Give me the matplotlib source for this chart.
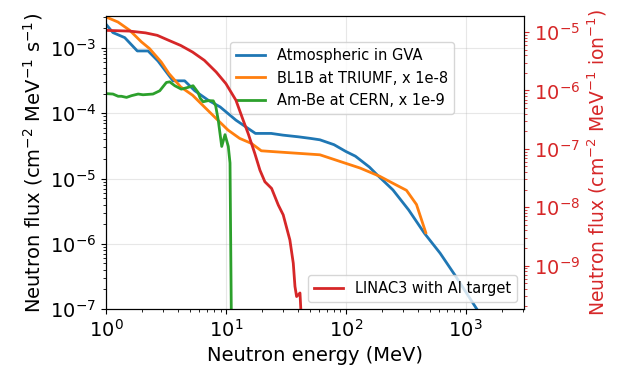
import numpy as np
import matplotlib.pyplot as plt

# Atmospheric neutrons in Geneva
atm_e = [1.0, 1.14, 1.43, 1.82, 2.24, 2.71, 3.61, 4.52, 5.49, 7.12, 8.93, 12.1, 17.6,
         23.8, 29.9, 40.4, 50.6, 60.7, 79.6, 99.8, 120, 157, 183, 247, 334, 452, 611,
         827, 1236, 1500]
atm_f = [2.3e-3, 1.72e-3, 1.44e-3, 9.0e-4, 9.0e-4, 6.3e-4, 3.14e-4, 3.14e-4, 2.21e-4,
         1.58e-4, 1.25e-4, 7.84e-5, 4.91e-5, 4.91e-5, 4.62e-5, 4.35e-5, 4.12e-5, 3.92e-5,
         3.3e-5, 2.6e-5, 2.2e-5, 1.5e-5, 1.13e-5, 6.68e-6, 3.3e-6, 1.45e-6, 7.18e-7,
         3.15e-7, 1.0e-7, 5.5e-8]

# BL1B at TRIUMF (scaled x 1e-8)
tri_e = [1.0, 1.254, 1.57, 1.97, 2.30, 2.88, 3.34, 4.19, 5.26, 6.60, 8.28, 10.4, 13.0,
         16.3, 19.7, 25.7, 40.4, 60.7, 89.1, 131, 192, 247, 320, 388, 464]
tri_f = [2.98e-3, 2.5e-3, 1.87e-3, 1.24e-3, 9.8e-4, 6.1e-4, 4.06e-4, 2.53e-4, 1.89e-4,
         1.25e-4, 8.3e-5, 5.52e-5, 4.12e-5, 3.45e-5, 2.66e-5, 2.57e-5, 2.43e-5, 2.31e-5,
         1.83e-5, 1.45e-5, 1.08e-5, 8.45e-6, 6.6e-6, 4.0e-6, 1.48e-6]

# Am-Be at CERN (scaled x 1e-9)
ambe_e = [1.0, 1.14, 1.26, 1.34, 1.48, 1.63, 1.85, 2.03, 2.46, 2.80, 3.18, 3.39, 3.74,
          4.24, 4.82, 5.31, 5.84, 6.1, 6.45, 7.08, 7.83, 8.2, 8.61, 9.21, 9.81, 10.45,
          10.8, 10.9, 11.1]
ambe_f = [2.0e-4, 1.97e-4, 1.82e-4, 1.82e-4, 1.75e-4, 1.86e-4, 1.97e-4, 1.92e-4, 1.97e-4,
          2.21e-4, 2.96e-4, 3.03e-4, 2.64e-4, 2.34e-4, 2.49e-4, 2.64e-4, 2.09e-4, 1.69e-4,
          1.5e-4, 1.56e-4, 1.55e-4, 1.3e-4, 7.9e-5, 3.1e-5, 4.7e-5, 3.1e-5, 1.73e-5,
          2.4e-6, 5e-8]

# LINAC3 with Al target (right axis)
lin_e = [1.0, 1.57, 2.13, 2.67, 3.34, 4.19, 5.26, 6.60, 8.28, 9.98, 12.1, 13.9, 15.3,
         17.4, 19.2, 21.1, 24.0, 27.3, 30.0, 34.1, 36.4, 37.6, 38.8, 41.4, 42.7]
lin_f = [1.07e-5, 1.04e-5, 9.7e-6, 8.8e-6, 7.2e-6, 5.9e-6, 4.55e-6, 3.28e-6, 2.07e-6,
         1.31e-6, 6.8e-7, 3.1e-7, 1.83e-7, 8.3e-8, 4.3e-8, 2.73e-8, 2.1e-8, 1.09e-8,
         7.4e-9, 2.75e-9, 1.1e-9, 4.4e-10, 2.95e-10, 3.4e-10, 1e-10]

plt.rcParams['font.size'] = 14

fig, ax = plt.subplots(figsize=(6.17, 3.83), dpi=100)
fig.subplots_adjust(left=0.172, right=0.849, top=0.958, bottom=0.193)

ax.plot(atm_e, atm_f, color='tab:blue', lw=2, label='Atmospheric in GVA')
ax.plot(tri_e, tri_f, color='tab:orange', lw=2, label='BL1B at TRIUMF, x 1e-8')
ax.plot(ambe_e, ambe_f, color='tab:green', lw=2, label='Am-Be at CERN, x 1e-9')
ax.set_xscale('log')
ax.set_yscale('log')
ax.set_xlim(1, 3.05e3)
ax.set_ylim(1e-7, 3.08e-3)
ax.set_xlabel('Neutron energy (MeV)')
ax.set_ylabel('Neutron flux (cm$^{-2}$ MeV$^{-1}$ s$^{-1}$)')
ax.grid(True, which='major', alpha=0.3)
ax.legend(loc='upper right', bbox_to_anchor=(0.85, 0.935), fontsize=10.5)

ax2 = ax.twinx()
ax2.plot(lin_e, lin_f, color='tab:red', lw=2, label='LINAC3 with Al target')
ax2.set_yscale('log')
ax2.set_ylim(1.8e-10, 1.88e-5)
ax2.set_ylabel('Neutron flux (cm$^{-2}$ MeV$^{-1}$ ion$^{-1}$)', color='tab:red',
               fontsize=13.5)
ax2.tick_params(axis='y', which='both', colors='tab:red')
ax2.legend(loc='lower right', fontsize=10.5)

plt.savefig('out.png')
